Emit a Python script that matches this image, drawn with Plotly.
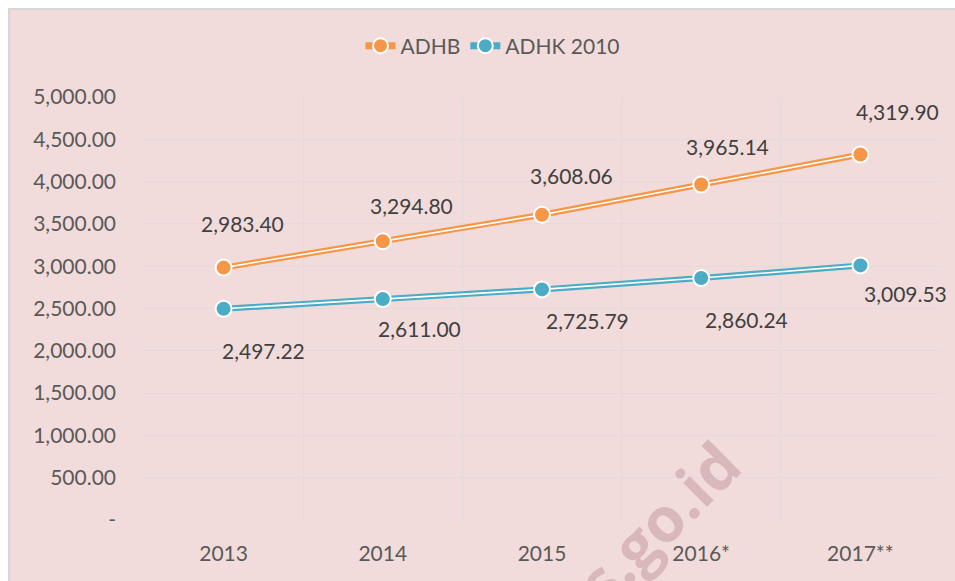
import plotly.graph_objects as go

years = ["2013", "2014", "2015", "2016*", "2017**"]
adhb = [2983.40, 3294.80, 3608.06, 3965.14, 4319.90]
adhk = [2497.22, 2611.00, 2725.79, 2860.24, 3009.53]
series_names = ["ADHB", "ADHK 2010"]
y_ticks = [0, 500, 1000, 1500, 2000, 2500, 3000, 3500, 4000, 4500, 5000]
y_ticktext = ["-" if v == 0 else f"{v:,.2f}" for v in y_ticks]

# label offsets (pixels) relative to points: (xshift, yshift)
adhb_off = [(19, 44), (29, 36), (29, 39), (26, 38), (37, 43)]
adhk_off = [(40, -42), (37, -29), (45, -31), (45, -41), (45, -28)]

ORANGE = "#F79646"
BLUE = "#4BACC6"
BG = "#F2DCDB"
FONT = "Lato"

fig = go.Figure()
for vals, col in [(adhb, ORANGE), (adhk, BLUE)]:
    fig.add_trace(go.Scatter(x=years, y=vals, mode="lines", showlegend=False,
                             line=dict(color=col, width=6), hoverinfo="skip"))
    fig.add_trace(go.Scatter(x=years, y=vals, mode="lines", showlegend=False,
                             line=dict(color="white", width=1.6), hoverinfo="skip"))
for vals, col in [(adhb, ORANGE), (adhk, BLUE)]:
    fig.add_trace(go.Scatter(x=years, y=vals, mode="markers", showlegend=False,
                             marker=dict(color=col, size=16, line=dict(color="white", width=2))))
for name, col in zip(series_names, [ORANGE, BLUE]):
    fig.add_trace(go.Scatter(x=[None], y=[None], mode="lines+markers", name=name,
                             line=dict(color=col, width=7),
                             marker=dict(color=col, size=15, line=dict(color="white", width=2))))

annotations = []
for vals, offs in [(adhb, adhb_off), (adhk, adhk_off)]:
    for i, (v, (dx, dy)) in enumerate(zip(vals, offs)):
        annotations.append(dict(x=i, y=v, xref="x", yref="y", text=f"{v:,.2f}",
                                showarrow=False, xshift=dx, yshift=dy,
                                font=dict(family=FONT, size=21, color="#404040")))

# page-pixel helpers (body margin removed, figure at page origin)
L, T = 144, 97          # plot area left/top in page pixels
PW, PH = 796, 423
W, H = 955, 581
def px(xp):
    return (xp - L) / PW
def py(yp):
    return (T + PH - yp) / PH

# watermark
annotations.append(dict(x=px(630), y=py(680), xref="paper", yref="paper", text="<b>bps.go.id</b>",
                        showarrow=False, textangle=-45,
                        font=dict(family="Open Sans", size=62, color="rgba(159,103,112,0.3)")))

fig.update_layout(
    width=W, height=H,
    margin=dict(l=L, r=W - L - PW, t=T, b=H - T - PH),
    paper_bgcolor=BG,
    plot_bgcolor="rgba(0,0,0,0)",
    font=dict(family=FONT, size=21, color="#595959"),
    showlegend=True,
    legend=dict(orientation="h", x=px(493), y=py(46), xanchor="center", yanchor="middle",
                font=dict(family=FONT, size=21, color="#595959"), bgcolor="rgba(0,0,0,0)"),
    xaxis=dict(type="category", categoryorder="array", categoryarray=years,
               range=[-0.5, 4.5], tickson="boundaries", showgrid=True,
               gridcolor="#E2DADB", gridwidth=1, ticks="", showline=False, zeroline=False,
               tickfont=dict(family=FONT, size=21, color="#595959"), ticklabelstandoff=19),
    yaxis=dict(range=[0, 5000], tickvals=y_ticks, ticktext=y_ticktext, showgrid=True,
               gridcolor="#E2DADB", gridwidth=1, zeroline=False, ticks="", showline=False,
               tickfont=dict(family=FONT, size=21, color="#595959"), ticklabelstandoff=27),
    shapes=[
        dict(type="rect", xref="paper", yref="paper", x0=px(-5), x1=px(8), y0=py(600), y1=py(-5),
             fillcolor="white", line=dict(width=0), layer="below"),
        dict(type="rect", xref="paper", yref="paper", x0=px(-5), x1=px(970), y0=py(8), y1=py(-5),
             fillcolor="white", line=dict(width=0), layer="below"),
        dict(type="line", xref="paper", yref="paper", x0=px(9), x1=px(9), y0=py(8), y1=py(600),
             line=dict(color="#D5D7D9", width=2), layer="below"),
        dict(type="line", xref="paper", yref="paper", x0=px(8), x1=px(970), y0=py(9), y1=py(9),
             line=dict(color="#D5D7D9", width=2), layer="below"),
    ],
    annotations=annotations,
)

fig.write_html("out.html", config={"displayModeBar": False}, post_script=(
    "document.body.style.margin='0';"
    "document.documentElement.style.overflow='hidden';"
    "document.body.style.overflow='hidden';"))
